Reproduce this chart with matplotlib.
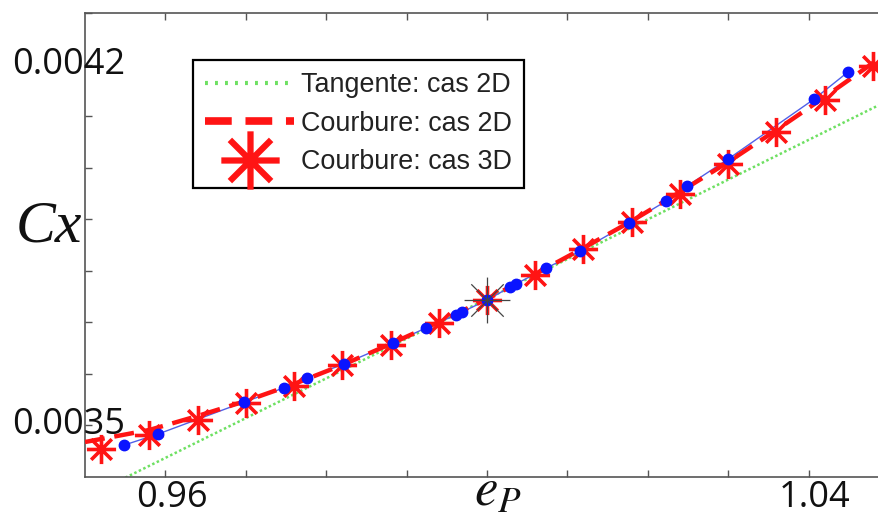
import matplotlib
matplotlib.use("Agg")
import matplotlib.pyplot as plt
import matplotlib.transforms as mtrans
from matplotlib.path import Path
from matplotlib.lines import Line2D

# ---------------- data ----------------
# Tangent line (2D case)
tan_ep = [0.95, 1.05]
tan_cx = [0.003360, 0.004131]

# Curvature, 2D case (dashed red)
c2d_ep = [0.950, 0.952, 0.958, 0.964, 0.970, 0.976, 0.982, 0.988, 0.994, 1.000,
          1.006, 1.012, 1.018, 1.024, 1.030, 1.036, 1.042, 1.048, 1.050]
c2d_cx = [0.0034679, 0.0034737, 0.0034912, 0.0035183, 0.0035474, 0.0035804, 0.0036172,
          0.0036580, 0.0037006, 0.0037453, 0.0037937, 0.0038442, 0.0038966, 0.0039528,
          0.0040110, 0.0040731, 0.0041371, 0.0042030, 0.0042244]

# Curvature, 3D case (red asterisks)
c3d_ep = [0.952, 0.958, 0.964, 0.970, 0.976, 0.982, 0.988, 0.994, 1.000,
          1.006, 1.012, 1.018, 1.024, 1.030, 1.036, 1.042, 1.048]
c3d_cx = [0.0034543, 0.0034815, 0.0035106, 0.0035435, 0.0035765, 0.0036172, 0.0036560,
          0.0036987, 0.0037433, 0.0037918, 0.0038422, 0.0038946, 0.0039489, 0.0040071,
          0.0040692, 0.0041313, 0.0041972]

# Reference computations (blue dots)
ref_ep = [0.9549, 0.9591, 0.9698, 0.9747, 0.9776, 0.9822, 0.9883, 0.9924, 0.9961, 0.9969,
          1.0000, 1.0029, 1.0036, 1.0074, 1.0116, 1.0177, 1.0223, 1.0249, 1.0300, 1.0407, 1.0449]
ref_cx = [0.0034621, 0.0034834, 0.0035455, 0.0035726, 0.0035920, 0.0036192, 0.0036599,
          0.0036890, 0.0037142, 0.0037200, 0.0037433, 0.0037685, 0.0037744, 0.0038054,
          0.0038384, 0.0038927, 0.0039353, 0.0039644, 0.0040168, 0.0041332, 0.0041856]

# Nominal point
nom_ep = [1.0]
nom_cx = [0.0037433]

labels = ["Tangente: cas 2D", "Courbure: cas 2D", "Courbure: cas 3D"]
xtick_vals = [0.96, 0.97, 0.98, 0.99, 1.00, 1.01, 1.02, 1.03, 1.04]
ytick_vals = [0.0035, 0.0036, 0.0037, 0.0038, 0.0039, 0.0040, 0.0041, 0.0042, 0.0043]
xlabel_shown = [(0.96, "0.96"), (1.04, "1.04")]
ylabel_shown = [(0.0042, "0.0042"), (0.0035, "0.0035")]

# ---------------- figure ----------------
W, H = 879, 520
plt.rcParams["mathtext.fontset"] = "stix"
fig = plt.figure(figsize=(W / 100, H / 100), dpi=100)
ax = fig.add_axes([85 / W, 43 / H, 804 / W, 464 / H])
ax.set_xlim(0.95, 1.05)
ax.set_ylim(0.0034, 0.0043)

# asterisk marker (MATLAB-like '*': + and x combined)
d = 0.707
ast = Path([(0, -1), (0, 1), (-1, 0), (1, 0), (-d, -d), (d, d), (-d, d), (d, -d)],
           [Path.MOVETO, Path.LINETO] * 4)

green = "#6ee062"
red = "#ff1414"

ax.plot(tan_ep, tan_cx, color=green, lw=1.8, ls=(0, (1, 1)), zorder=2)
ax.plot(ref_ep, ref_cx, color="#5060e8", lw=1.0, zorder=3)
ax.plot(c2d_ep, c2d_cx, color=red, lw=3.2, ls=(0, (4.5, 2.2)), zorder=4)
ax.plot(c3d_ep, c3d_cx, ls="none", marker=ast, ms=21, mew=2.6, mec=red, mfc="none", zorder=5)
ax.plot(ref_ep, ref_cx, ls="none", marker="o", ms=7.5, mfc="#0a14ff", mec="#0a14ff", zorder=6)
ax.plot(nom_ep, nom_cx, ls="none", marker=ast, ms=33, mew=0.9, mec="#444444", mfc="none", zorder=7)

# axes styling
for s in ["left", "top", "right", "bottom"]:
    ax.spines[s].set_color("#555555")
    ax.spines[s].set_linewidth(1.2)
ax.set_xticks(xtick_vals)
ax.set_yticks(ytick_vals)
ax.set_xticklabels([])
ax.set_yticklabels([])
ax.tick_params(direction="in", length=5, width=1, color="#555555",
               top=True, right=True, bottom=True, left=True)

tfont = "Open Sans"
ytrans = mtrans.blended_transform_factory(mtrans.IdentityTransform(), ax.transData)
for v, t in ylabel_shown:
    ax.text(125, v, t, transform=ytrans, ha="right", va="center", fontsize=26,
            family=tfont, color="#111111")
xtrans = mtrans.blended_transform_factory(ax.transData, ax.transAxes)
for v, t in xlabel_shown:
    ax.text(v + 0.0008, -0.045, t, transform=xtrans, ha="center", va="center",
            fontsize=26, family=tfont, color="#111111")

fig.text(82 / W, 1 - 228 / H, "Cx", ha="right", va="center", fontsize=43,
         family="Liberation Serif", style="italic", color="#111111")
fig.text(498 / W, 14 / H, r"$e_P$", ha="center", va="baseline", fontsize=38,
         color="#111111")

# legend
h1 = Line2D([], [], color=green, lw=3, ls=(0, (0.7, 1.7)))
h2 = Line2D([], [], color=red, lw=5.5, ls=(0, (3.5, 1.8)))
h3 = Line2D([], [], ls="none", marker=ast, ms=42, mew=4.5, mec=red, mfc="none")
leg = ax.legend([h1, h2, h3], labels, loc="upper left",
                bbox_to_anchor=(193 / W, 1 - 60 / H), bbox_transform=fig.transFigure,
                borderaxespad=0, fancybox=False, framealpha=1, edgecolor="black",
                prop={"family": "Liberation Sans", "size": 19.4},
                handlelength=3.3, handletextpad=0.25, labelspacing=0.47, borderpad=0.45)
leg.get_frame().set_linewidth(1.6)
for t in leg.get_texts():
    t.set_color("#222222")

fig.savefig("out.png", dpi=100)
